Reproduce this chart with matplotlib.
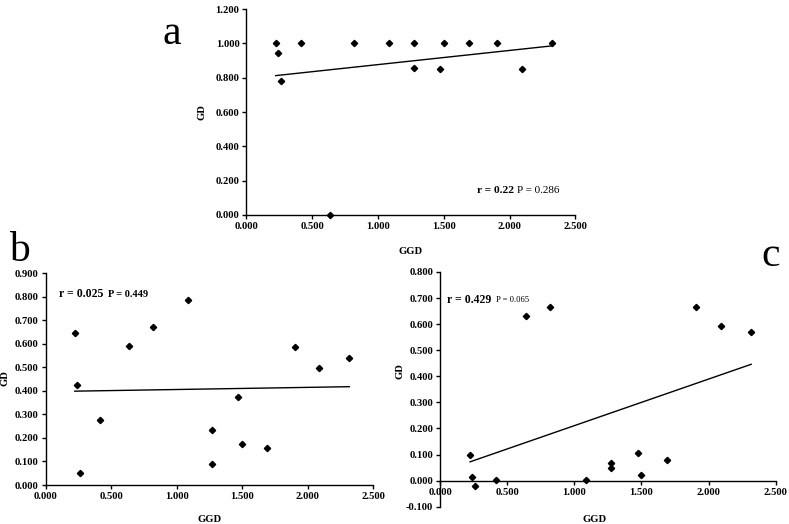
import numpy as np
import matplotlib
matplotlib.use('Agg')
import matplotlib.pyplot as plt
from matplotlib.ticker import FormatStrFormatter

# shared GGD values (x) and GD values (y) for the three panels
ggd = [0.222, 0.240, 0.262, 0.416, 0.636, 0.820, 1.083, 1.270, 1.272,
       1.471, 1.499, 1.693, 1.905, 2.090, 2.318]
gd_a = [1.000, 0.946, 0.780, 1.000, 0.000, 1.000, 1.000, 0.857, 1.000,
        0.851, 1.000, 1.000, 1.000, 0.851, 1.000]
gd_b = [0.645, 0.424, 0.050, 0.275, 0.592, 0.673, 0.785, 0.090, 0.232,
        0.373, 0.174, 0.158, 0.586, 0.496, 0.541]
gd_c = [0.100, 0.014, -0.019, 0.001, 0.632, 0.665, 0.003, 0.047, 0.068,
        0.104, 0.023, 0.079, 0.667, 0.592, 0.570]

# trend line ends (at first and last GGD)
trend_x = [0.222, 2.318]
trend_a = [0.812, 0.985]
trend_b = [0.399, 0.418]
trend_c = [0.072, 0.446]

r_texts = ['r = 0.22', 'r = 0.025', 'r = 0.429']
p_texts = ['P = 0.286', 'P = 0.449', 'P = 0.065']

plt.rcParams['font.family'] = ['Liberation Serif', 'DejaVu Serif']
plt.rcParams['font.weight'] = 'bold'

fig = plt.figure(figsize=(7.89, 5.24), dpi=100)

ax_a = fig.add_axes([0.3124, 0.5897, 0.417, 0.3931])
ax_b = fig.add_axes([0.0579, 0.0744, 0.4151, 0.404])
ax_c = fig.add_axes([0.5580, 0.0330, 0.425, 0.448])


def style(ax, ylim, yticks):
    ax.set_xlim(0, 2.5)
    ax.set_ylim(*ylim)
    ax.set_xticks(np.arange(0, 2.501, 0.5))
    ax.set_yticks(yticks)
    ax.xaxis.set_major_formatter(FormatStrFormatter('%.3f'))
    ax.yaxis.set_major_formatter(FormatStrFormatter('%.3f'))
    for s in ['top', 'right']:
        ax.spines[s].set_visible(False)
    for s in ['left', 'bottom']:
        ax.spines[s].set_linewidth(1.0)
    ax.tick_params(direction='out', length=3, width=1.0, labelsize=7.6, pad=2)
    ax.set_xlabel('GGD', fontsize=7.6, fontweight='bold')
    ax.set_ylabel('GD', fontsize=7.6, fontweight='bold')


style(ax_a, (0, 1.2), np.arange(0, 1.201, 0.2))
style(ax_b, (0, 0.9), np.arange(0, 0.901, 0.1))
style(ax_c, (-0.1, 0.8), np.arange(-0.1, 0.801, 0.1))
ax_c.spines['bottom'].set_position(('data', 0))

for ax, gd, tr in [(ax_a, gd_a, trend_a), (ax_b, gd_b, trend_b), (ax_c, gd_c, trend_c)]:
    ax.plot(ggd, gd, 'D', color='black', ms=3.2, clip_on=False, zorder=3)
    ax.plot(trend_x, tr, color='black', lw=1.0)

ax_a.xaxis.set_label_coords(0.5, -0.155)
ax_a.yaxis.set_label_coords(-0.121, 0.5)
ax_b.xaxis.set_label_coords(0.5, -0.142)
ax_b.yaxis.set_label_coords(-0.109, 0.507)
ax_c.xaxis.set_label_coords(0.459, -0.035)
ax_c.yaxis.set_label_coords(-0.107, 0.578)

# r / P annotations
ax_a.text(0.70, 0.12, r_texts[0], transform=ax_a.transAxes, fontsize=8.2,
          fontweight='bold', va='center')
ax_a.text(0.822, 0.12, p_texts[0], transform=ax_a.transAxes, fontsize=8,
          fontweight='normal', va='center')
ax_b.text(0.04, 0.90, r_texts[1], transform=ax_b.transAxes, fontsize=8.5,
          fontweight='bold', va='center')
ax_b.text(0.19, 0.90, p_texts[1], transform=ax_b.transAxes, fontsize=7.5,
          fontweight='bold', va='center')
ax_c.text(0.02, 0.88, r_texts[2], transform=ax_c.transAxes, fontsize=8.5,
          fontweight='bold', va='center')
ax_c.text(0.167, 0.88, p_texts[2], transform=ax_c.transAxes, fontsize=6.2,
          fontweight='normal', va='center')

# panel letters
fig.text(172 / 789, 1 - 44 / 524, 'a', fontsize=30, fontweight='normal',
         ha='center', va='baseline')
fig.text(19 / 789, 1 - 261 / 524, 'b', fontsize=30, fontweight='normal',
         ha='center', va='baseline')
fig.text(771 / 789, 1 - 266 / 524, 'c', fontsize=30, fontweight='normal',
         ha='center', va='baseline')

fig.savefig('out.png', dpi=100)
